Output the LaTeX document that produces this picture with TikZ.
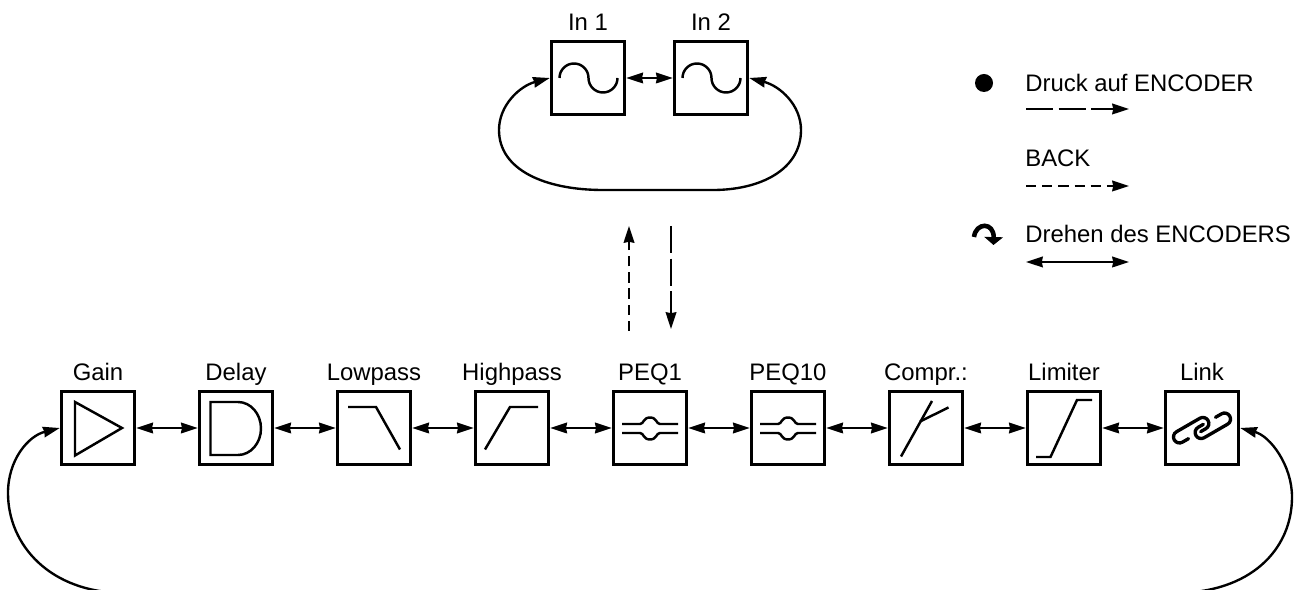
\documentclass[tikz,border=0pt]{standalone}
\usepackage{fontspec}
\setmainfont{Liberation Sans}
\usetikzlibrary{arrows.meta,positioning}
\tikzset {>={Stealth[length=9.5pt,width=6pt,inset=.5pt]}}
\tikzset{
  block/.style={draw,line width=1.7pt,minimum size=1.47cm,inner sep=0pt},
  blocklabel/.style={font=\fontsize{13.6}{16}\selectfont,text depth=3pt,inner sep=1pt},
  legendtext/.style={font=\fontsize{13.6}{16}\selectfont,anchor=base west,inner sep=0pt},
  conn/.style={line width=1.35pt},
  icon/.style={line width=1.4pt},
  longdash/.style={conn,dash pattern=on 15.4pt off 3.2pt},
  shortdash/.style={conn,dash pattern=on 5.8pt off 3.4pt}
}
\begin{document}
\begin{tikzpicture}[x=.02cm,y=-.02cm]
\useasboundingbox (0,0) rectangle (1299,590);
\clip (0,0) rectangle (1299,590);
% upper row
\node[block] (in1) at (588,78) {};
\node[block] (in2) at (711,78) {};
\node[blocklabel,above=1pt of in1] (in1label) {In 1};
\node[blocklabel,above=1pt of in2] (in2label) {In 2};
\draw[icon] (559.5,78) arc (180:360:14.5) arc (180:0:14.5);
\draw[icon] (682.5,78) arc (180:360:14.5) arc (180:0:14.5);
\draw[conn,<->] (in1) -- (in2);
\draw[conn,<->] (in1.west) .. controls (520,86) and (499,105) .. (499,130)
  .. controls (499,170) and (545,190) .. (603,190) -- (713,190)
  .. controls (760,190) and (801,170) .. (801,130)
  .. controls (801,105) and (780,86) .. (in2.east);
% lower row
\foreach \name/\txt/\xpos in {gain/Gain/98,delay/Delay/236,lowpass/Lowpass/374,highpass/Highpass/512,
  peqa/PEQ1/650,peqb/PEQ10/788,compr/Compr.:/926,limiter/Limiter/1064,link/Link/1202}
{
  \node[block] (\name) at (\xpos,428) {};
  \node[blocklabel,above=1pt of \name] (\name label) {\txt};
}
\foreach \a/\b in {gain/delay,delay/lowpass,lowpass/highpass,highpass/peqa,peqa/peqb,peqb/compr,compr/limiter,limiter/link}
  \draw[conn,<->] (\a) -- (\b);
\draw[conn,<->] (gain.west) .. controls (28,436) and (8,460) .. (8,493)
  .. controls (8,545) and (50,593) .. (125,593) -- (1175,593)
  .. controls (1250,593) and (1292,550) .. (1292,497)
  .. controls (1292,465) and (1270,436) .. (link.east);
% icons
\draw[icon] (75,402) -- (122,428) -- (75,455.5) -- cycle;
\draw[icon] (238,402) arc (-90:90:23 and 26.5) -- (210.5,455) -- (210.5,402) -- cycle;
\draw[icon] (348,407) -- (376,407) -- (400,449.5);
\draw[icon] (485,449.5) -- (510,407) -- (538,407);
\foreach \xpos in {650,788}
{
  \draw[icon] (\xpos-28,424) -- (\xpos-10,424) .. controls (\xpos-6,424) and (\xpos-7,417.5) .. (\xpos,417.5)
    .. controls (\xpos+7,417.5) and (\xpos+6,424) .. (\xpos+10,424) -- (\xpos+28,424);
  \draw[icon] (\xpos-28,433) -- (\xpos-10,433) .. controls (\xpos-6,433) and (\xpos-7,439.5) .. (\xpos,439.5)
    .. controls (\xpos+7,439.5) and (\xpos+6,433) .. (\xpos+10,433) -- (\xpos+28,433);
}
\draw[icon] (901,456.5) -- (932,401);
\draw[icon] (920,421.5) -- (948.5,407.5);
\draw[icon] (1036,457) -- (1050.5,457) -- (1077,400) -- (1092,400);
\begin{scope}[shift={(1202,428)},rotate=30,line width=1.9pt,line cap=round]
\draw (-17,2.5) -- (-24,2.5) arc (90:270:6) -- (3,-9.5) arc (-90:90:6) -- (-3,2.5);
\draw (17,-2.5) -- (24,-2.5) arc (-90:90:6) -- (-3,9.5) arc (90:270:6) -- (3,-2.5);
\end{scope}
% middle arrows
\coordinate (upstart) at (629,331);
\coordinate (upend) at (629,226);
\coordinate (downstart) at (671,226);
\coordinate (downend) at (671,329);
\draw[shortdash,->] (upstart) -- (upend);
\draw[longdash,->] (downstart) -- (downend);
% legend
\fill (984,83) circle (9) coordinate (pressdot);
\node[legendtext] (presstext) at (1025,92) {Druck auf ENCODER};
\node[legendtext] (backtext) at (1025,167) {BACK};
\node[legendtext] (turntext) at (1025,243) {Drehen des ENCODERS};
\coordinate (pressa) at (1026,109);
\coordinate (pressb) at (1129,109);
\coordinate (backa) at (1026,186);
\coordinate (backb) at (1129,186);
\coordinate (turna) at (1026,262);
\coordinate (turnb) at (1129,262);
\draw[longdash,->] (pressa) -- (pressb);
\draw[shortdash,->] (backa) -- (backb);
\draw[conn,<->] (turna) -- (turnb);
\coordinate (knoba) at (974,237);
\coordinate (knobb) at (993.5,245);
\draw[line width=2.6pt,-{Triangle[length=4.5pt,width=10.5pt]}] (knoba) .. controls (976,222) and (994,222) .. (knobb);
\end{tikzpicture}
\end{document}
